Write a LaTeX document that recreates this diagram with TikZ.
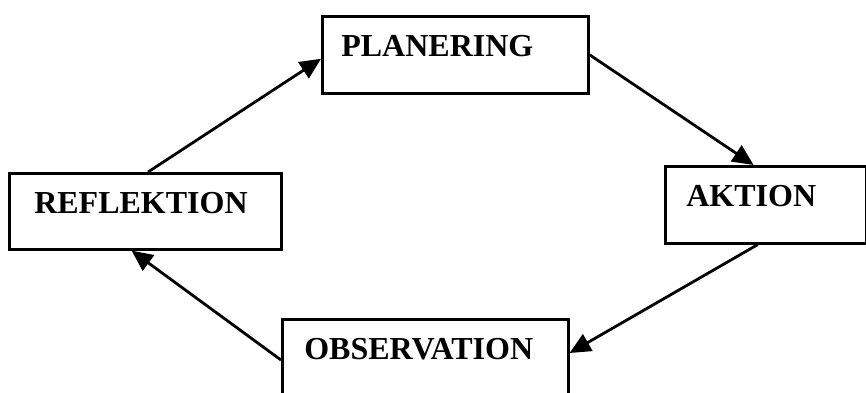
\documentclass[tikz,border=0pt]{standalone}
\usepackage{fontspec}
\setmainfont{Liberation Serif}
\usepackage{tikz}
\usetikzlibrary{
	arrows.meta,
	calc,
	positioning
}

\begin{document}
\begin{tikzpicture}[x = 1pt, y = -1pt,
	stagebox/.style = {draw, line width = 2.6pt, anchor = north west, inner ysep = 0pt,
		align = left, text height = 40pt, font = \fontsize{32}{38}\selectfont\bfseries},
	cyclearrow/.style = {line width = 2.8pt, -{Triangle[length = 21pt, width = 19pt]}}]
	\useasboundingbox (0,0) rectangle (866,392);
	
	\node at (321, 15) [stagebox, text width = 228pt, inner xsep = 19pt, text depth = 37pt] (planering) {PLANERING};
	\node at (664, 165) [stagebox, text width = 159pt, inner xsep = 21pt, text depth = 37pt] (aktion) {AKTION};
	\node at (281, 318) [stagebox, text width = 242pt, inner xsep = 22pt, text depth = 40pt] (observation) {OBSERVATION};
	\node at (8, 172) [stagebox, text width = 222pt, inner xsep = 25pt, text depth = 36pt] (reflektion) {REFLEKTION};
	
	\draw [cyclearrow] ($(reflektion.north west)!0.51!(reflektion.north east)$)
	-- ($(planering.north west)!0.55!(planering.south west)$);
	
	\draw [cyclearrow] (planering.east)
	-- ($(aktion.north west)!0.44!(aktion.north east)$);
	
	\draw [cyclearrow] ($(aktion.south west)!0.46!(aktion.south east)$)
	-- ($(observation.north east)+(0,35)$);
	
	\draw [cyclearrow] ($(observation.north west)+(0,42)$)
	-- ($(reflektion.south west)!0.45!(reflektion.south east)$);
	
\end{tikzpicture}
\end{document}
